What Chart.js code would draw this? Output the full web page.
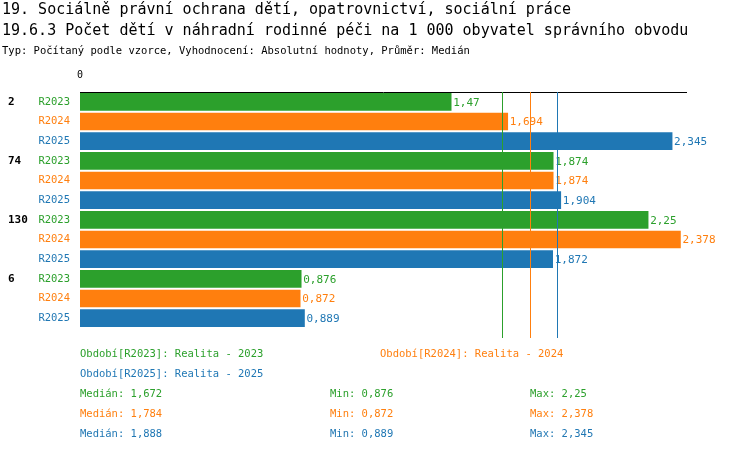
<!DOCTYPE html>
<html><head><meta charset="utf-8">
<script src="https://cdn.jsdelivr.net/npm/chart.js@4"></script>
<style>
body{margin:0;width:750px;height:452px;position:relative;font-family:"DejaVu Sans Mono",monospace;background:#fff;overflow:hidden}
.t{position:absolute;white-space:nowrap}
canvas{position:absolute;left:0;top:0}
</style></head><body>
<canvas id="c" width="750" height="452"></canvas>
<div class="t" style="left:2px;top:0px;font-size:15px">19. Sociálně právní ochrana dětí, opatrovnictví, sociální práce</div>
<div class="t" style="left:2px;top:21px;font-size:15px">19.6.3 Počet dětí v náhradní rodinné péči na 1 000 obyvatel správního obvodu</div>
<div class="t" style="left:2px;top:44px;font-size:10.5px">Typ: Počítaný podle vzorce, Vyhodnocení: Absolutní hodnoty, Průměr: Medián</div>
<div id="stats"></div>
<script>
const groups = ["2", "74", "130", "6"];
const periods = ["R2023", "R2024", "R2025"];
const colors = ["#2ca02c", "#ff7f0e", "#1f77b4"];
const v2023 = [1.47, 1.874, 2.25, 0.876];
const v2024 = [1.694, 1.874, 2.378, 0.872];
const v2025 = [2.345, 1.904, 1.872, 0.889];
const medians = [1.672, 1.784, 1.888];
const mins = [0.876, 0.872, 0.889];
const maxs = [2.25, 2.378, 2.345];
const legendText = ["Období[R2023]: Realita - 2023", "Období[R2024]: Realita - 2024", "Období[R2025]: Realita - 2025"];

const series = [v2023, v2024, v2025];
const fmt = v => String(v).replace(".", ",");

// jeden řádek = jeden sloupec
let labels = [], values = [], barColors = [];
groups.forEach((g, gi) => {
  periods.forEach((p, pi) => {
    labels.push(p);
    values.push(series[pi][gi]);
    barColors.push(colors[pi]);
  });
});

const extras = {
  id: "extras",
  afterDatasetsDraw(chart) {
    const ctx = chart.ctx, x = chart.scales.x, y = chart.scales.y;
    ctx.save();
    ctx.font = "11px 'DejaVu Sans Mono'";
    ctx.textBaseline = "middle";
    chart.getDatasetMeta(0).data.forEach((bar, i) => {
      ctx.fillStyle = barColors[i];
      ctx.textAlign = "left";
      ctx.fillText(fmt(values[i]), bar.x + 2, bar.y + 1);
    });
    ctx.font = "bold 11px 'DejaVu Sans Mono'";
    ctx.fillStyle = "#000";
    groups.forEach((g, gi) => {
      ctx.fillText(g, 8, y.getPixelForValue(gi * 3));
    });
    medians.forEach((m, i) => {
      const px = Math.round(x.getPixelForValue(m)) + 0.5;
      ctx.strokeStyle = colors[i];
      ctx.lineWidth = 1;
      ctx.beginPath();
      ctx.moveTo(px, chart.chartArea.top);
      ctx.lineTo(px, chart.chartArea.bottom + 10);
      ctx.stroke();
    });
    ctx.restore();
  }
};

new Chart(document.getElementById("c"), {
  type: "bar",
  data: { labels, datasets: [{ data: values, backgroundColor: barColors, barThickness: 17 }] },
  options: {
    indexAxis: "y",
    responsive: false,
    animation: false,
    layout: { padding: { top: 66, right: 64, bottom: 124, left: 0 } },
    plugins: { legend: { display: false }, tooltip: { enabled: false } },
    scales: {
      x: {
        position: "top", min: 0, max: 2.4,
        grid: { display: false, drawTicks: true },
        border: { display: true, color: "#000" },
        ticks: { autoSkip: false, stepSize: 0.1, font: { family: "DejaVu Sans Mono", size: 10 }, color: "#000",
          callback: v => v === 0 ? "0" : "" }
      },
      y: {
        grid: { display: false },
        border: { display: false },
        afterFit: s => { s.width = 80; },
        ticks: { font: { family: "DejaVu Sans Mono", size: 10.5 }, color: c => barColors[c.index], padding: 2 }
      }
    }
  },
  plugins: [extras]
});

// spodní legenda a statistiky
const st = document.getElementById("stats");
const add = (txt, l, t, c) => {
  const d = document.createElement("div");
  d.className = "t"; d.textContent = txt;
  d.style.cssText = `left:${l}px;top:${t}px;color:${c};font-size:10.5px`;
  st.appendChild(d);
};
add(legendText[0], 80, 347, colors[0]);
add(legendText[1], 380, 347, colors[1]);
add(legendText[2], 80, 367, colors[2]);
for (let i = 0; i < 3; i++) {
  add("Medián: " + fmt(medians[i]), 80, 387 + i * 20, colors[i]);
  add("Min: " + fmt(mins[i]), 330, 387 + i * 20, colors[i]);
  add("Max: " + fmt(maxs[i]), 530, 387 + i * 20, colors[i]);
}
</script>
</body></html>
